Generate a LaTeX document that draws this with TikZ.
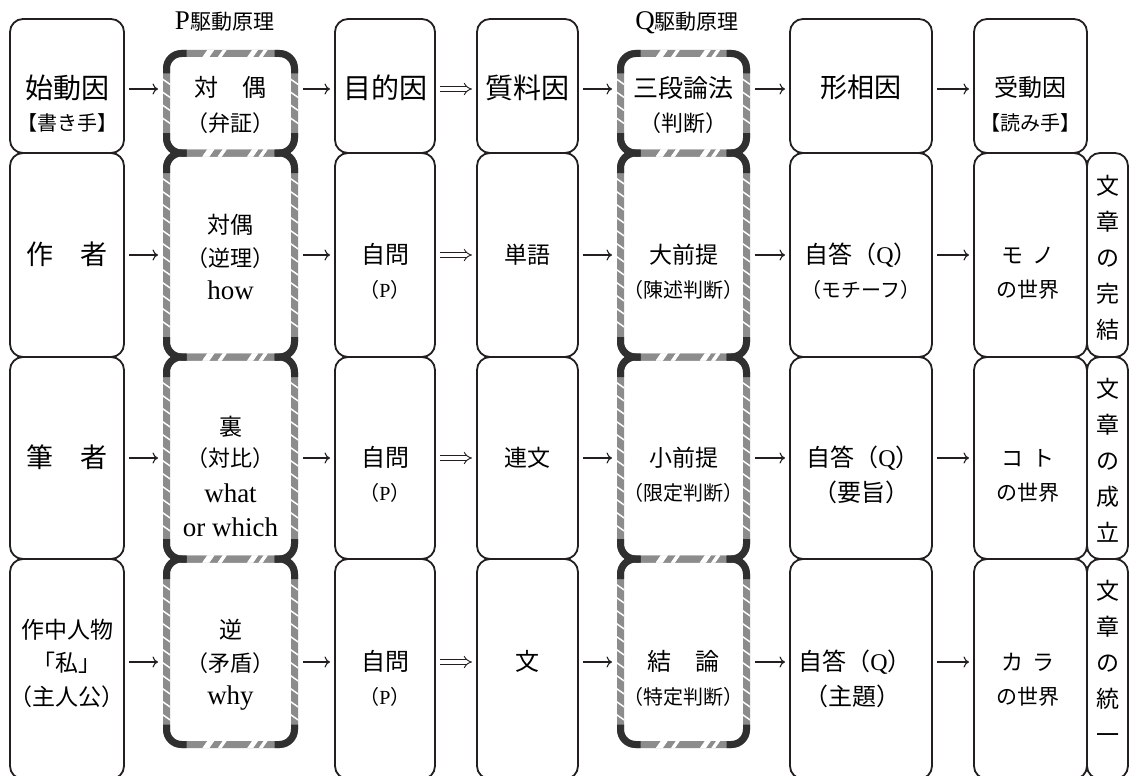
\documentclass[tikz,border=0pt]{standalone}
\usepackage{fontspec}
\setmainfont{Liberation Serif}
\newfontfamily\jp{Noto Sans CJK JP}
\usetikzlibrary{arrows.meta}
\definecolor{ink}{HTML}{231F20}
\definecolor{band}{HTML}{8C8C8C}
\definecolor{dk}{HTML}{303030}
\newcommand\la[1]{{\rmfamily #1}}
% text line: name, x, y(visual centre), size, text
\newcommand\tx[5]{\node[inner sep=0pt, outer sep=0pt, anchor=base] (#1) at (#2,{#3+0.37*#4}) {\fontsize{#4pt}{#4pt}\selectfont\jp #5};}
% plain rounded box: name, x1, y1, x2, y2
\newcommand\rbox[5]{\node[bx, minimum width={#4-#2}, minimum height={#5-#3}] (#1) at ({(#2+#4)/2},{(#3+#5)/2}) {};}
% striped box band
\newcommand\dbox[5]{\node[draw=band, line width=7pt, rounded corners=15pt, inner sep=0pt, outer sep=0pt, minimum width={#4-#2}, minimum height={#5-#3}] (#1) at ({(#2+#4)/2},{(#3+#5)/2}) {};}
% striped box marks: x1, y1, x2, y2
\newcommand\dmarks[4]{%
  \pgfmathtruncatemacro\nn{(#4-#2-50)/13}%
  \foreach \k in {0,...,\nn}{%
    \pgfmathsetmacro\yy{#2+25+13*\k}%
    \fill[white] ({#1-3.6},\yy) -- ({#1+3.6},{\yy+5}) -- ({#1+3.6},{\yy+6.8}) -- ({#1-3.6},{\yy+1.8}) -- cycle;
    \fill[white] ({#3-3.6},\yy) -- ({#3+3.6},{\yy+5}) -- ({#3+3.6},{\yy+6.8}) -- ({#3-3.6},{\yy+1.8}) -- cycle;
  }%
  \foreach \yy in {#2,#4}{%
    \foreach \fx/\w in {0.28/7,0.40/4,0.63/6,0.72/4}{%
      \pgfmathsetmacro\xx{#1+\fx*(#3-#1)}%
      \fill[white] (\xx,{\yy+3.6}) -- ({\xx+\w},{\yy+3.6}) -- ({\xx+\w+5},{\yy-3.6}) -- ({\xx+5},{\yy-3.6}) -- cycle;
    }%
  }%
  \draw[dk, line width=7pt, rounded corners=15pt] (#1,{#2+20}) -- (#1,#2) -- ({#1+20},#2);
  \draw[dk, line width=7pt, rounded corners=15pt] (#3,{#2+20}) -- (#3,#2) -- ({#3-20},#2);
  \draw[dk, line width=7pt, rounded corners=15pt] (#1,{#4-20}) -- (#1,#4) -- ({#1+20},#4);
  \draw[dk, line width=7pt, rounded corners=15pt] (#3,{#4-20}) -- (#3,#4) -- ({#3-20},#4);
}
\tikzset{
  bx/.style={draw=ink, line width=1.8pt, rounded corners=13pt, inner sep=0pt, outer sep=0pt},
  ar/.style={draw=ink, line width=1.1pt, -{Computer Modern Rightarrow[length=5.5pt,width=11pt]}, shorten <=5pt, shorten >=5pt},
  dar/.style={draw=ink, double=white, double distance=3.4pt, line width=0.9pt, -{Implies}, shorten <=5pt, shorten >=5pt},
  tod/.style={shorten >=8.5pt},
  fromd/.style={shorten <=8.5pt},
  vt/.style={inner sep=0pt, align=center, font=\jp\fontsize{23pt}{36pt}\selectfont}
}
\begin{document}
\begin{tikzpicture}[x=1pt,y=-1pt]
\useasboundingbox (0,0) rectangle (1130,776);
\clip (0,0) rectangle (1130,776);
\fill[white] (0,0) rectangle (1130,776);

% row levels of the arrows
\coordinate (y1) at (0,89);
\coordinate (y2) at (0,255);
\coordinate (y3) at (0,458);
\coordinate (y4) at (0,662);

% ---------- plain boxes ----------
\rbox{c1r1}{10}{19}{124}{153}
\rbox{c3r1}{335}{19}{435}{153}
\rbox{c4r1}{477}{19}{578}{153}
\rbox{c6r1}{790}{19}{932}{153}
\rbox{c7r1}{974}{19}{1087}{153}
\foreach \r/\a/\b in {2/153/357,3/357/559,4/559/779}{
  \rbox{c1r\r}{10}{\a}{124}{\b}
  \rbox{c3r\r}{335}{\a}{435}{\b}
  \rbox{c4r\r}{477}{\a}{578}{\b}
  \rbox{c6r\r}{790}{\a}{932}{\b}
  \rbox{c7r\r}{974}{\a}{1087}{\b}
  \rbox{c8r\r}{1087}{\a}{1128}{\b}
}

% ---------- striped boxes ----------
\dbox{p1}{166.5}{53.5}{294.5}{153}
\dbox{p2}{166.5}{153}{294.5}{357}
\dbox{p3}{166.5}{357}{294.5}{559}
\dbox{p4}{166.5}{559}{294.5}{744.5}
\dbox{q1}{620.5}{53.5}{746.5}{153}
\dbox{q2}{620.5}{153}{746.5}{357}
\dbox{q3}{620.5}{357}{746.5}{559}
\dbox{q4}{620.5}{559}{746.5}{744.5}
\dmarks{166.5}{53.5}{294.5}{153}
\dmarks{166.5}{153}{294.5}{357}
\dmarks{166.5}{357}{294.5}{559}
\dmarks{166.5}{559}{294.5}{744.5}
\dmarks{620.5}{53.5}{746.5}{153}
\dmarks{620.5}{153}{746.5}{357}
\dmarks{620.5}{357}{746.5}{559}
\dmarks{620.5}{559}{746.5}{744.5}

% ---------- arrows ----------
\foreach \r in {1,2,3,4}{
  \draw[ar, tod] (c1r\r.east |- y\r) -- (p\r.west |- y\r);
  \draw[ar, fromd] (p\r.east |- y\r) -- (c3r\r.west |- y\r);
  \draw[dar] (c3r\r.east |- y\r) -- (c4r\r.west |- y\r);
  \draw[ar, tod] (c4r\r.east |- y\r) -- (q\r.west |- y\r);
  \draw[ar, fromd] (q\r.east |- y\r) -- (c6r\r.west |- y\r);
  \draw[ar] (c6r\r.east |- y\r) -- (c7r\r.west |- y\r);
}

% ---------- headings ----------
\node[inner sep=0pt, anchor=base] (ph) at (224.5,30) {\fontsize{27pt}{27pt}\selectfont P\jp\fontsize{21pt}{21pt}\selectfont 駆動原理};
\node[inner sep=0pt, anchor=base] (qh) at (687,30) {\fontsize{27pt}{27pt}\selectfont Q\jp\fontsize{21pt}{21pt}\selectfont 駆動原理};

% ---------- row 1 ----------
\tx{t11a}{67}{88}{28}{始動因}
\tx{t11b}{67}{123}{20}{【書き手】}
\tx{t12a}{230.5}{88}{24}{対　偶}
\tx{t12b}{230.5}{123}{22}{（弁証）}
\tx{t13a}{385}{88}{28}{目的因}
\tx{t14a}{527.5}{88}{28}{質料因}
\tx{t15a}{683.5}{88}{25}{三段論法}
\tx{t15b}{683.5}{123}{22}{（判断）}
\tx{t16a}{861}{88}{27}{形相因}
\tx{t17a}{1030.5}{88}{24}{受動因}
\tx{t17b}{1030.5}{123}{20}{【読み手】}

% ---------- row 2 ----------
\tx{t21a}{67}{255}{27}{作　者}
\tx{t22a}{230.5}{225}{23}{対偶}
\tx{t22b}{230.5}{258}{22}{（逆理）}
\tx{t22c}{230.5}{290}{27}{\la{how}}
\tx{t23a}{385}{255}{24}{自問}
\tx{t23b}{385}{290}{20}{（\la{P}）}
\tx{t24a}{527.5}{255}{23}{単語}
\tx{t25a}{683.5}{255}{23}{大前提}
\tx{t25b}{683.5}{290}{20}{（陳述判断）}
\tx{t26a}{861}{255}{24}{自答（\la{Q}）}
\tx{t26b}{861}{290}{20}{（モチーフ）}
\tx{t27a}{1028}{255}{22}{モ\hspace{9pt}ノ}
\tx{t27b}{1028}{290}{21}{の世界}
\node[vt] (v2) at (1108,258) {文\\章\\の\\完\\結};

% ---------- row 3 ----------
\tx{t31a}{67}{458}{27}{筆　者}
\tx{t32a}{230.5}{427}{23}{裏}
\tx{t32b}{230.5}{458}{22}{（対比）}
\tx{t32c}{230.5}{493}{27}{\la{what}}
\tx{t32d}{230.5}{527}{27}{\la{or which}}
\tx{t33a}{385}{458}{24}{自問}
\tx{t33b}{385}{493}{20}{（\la{P}）}
\tx{t34a}{527.5}{458}{23}{連文}
\tx{t35a}{683.5}{458}{23}{小前提}
\tx{t35b}{683.5}{493}{20}{（限定判断）}
\tx{t36a}{863}{458}{24}{自答（\la{Q}）}
\tx{t36b}{861}{493}{24}{（要旨）}
\tx{t37a}{1028}{458}{22}{コ\hspace{9pt}ト}
\tx{t37b}{1028}{493}{21}{の世界}
\node[vt] (v3) at (1108,460) {文\\章\\の\\成\\立};

% ---------- row 4 ----------
\tx{t41a}{67}{630}{23}{作中人物}
\tx{t41b}{67}{663}{23}{「私」}
\tx{t41c}{67}{697}{23}{（主人公）}
\tx{t42a}{230.5}{630}{23}{逆}
\tx{t42b}{230.5}{663}{22}{（矛盾）}
\tx{t42c}{230.5}{695}{27}{\la{why}}
\tx{t43a}{385}{662}{24}{自問}
\tx{t43b}{385}{697}{20}{（\la{P}）}
\tx{t44a}{527.5}{662}{24}{文}
\tx{t45a}{683.5}{662}{24}{結　論}
\tx{t45b}{683.5}{697}{20}{（特定判断）}
\tx{t46a}{855}{662}{24}{自答（\la{Q}）}
\tx{t46b}{852}{697}{24}{（主題）}
\tx{t47a}{1028}{662}{22}{カ\hspace{9pt}ラ}
\tx{t47b}{1028}{697}{21}{の世界}
\node[vt] (v4) at (1108,662) {文\\章\\の\\統\\一};
\end{tikzpicture}
\end{document}
